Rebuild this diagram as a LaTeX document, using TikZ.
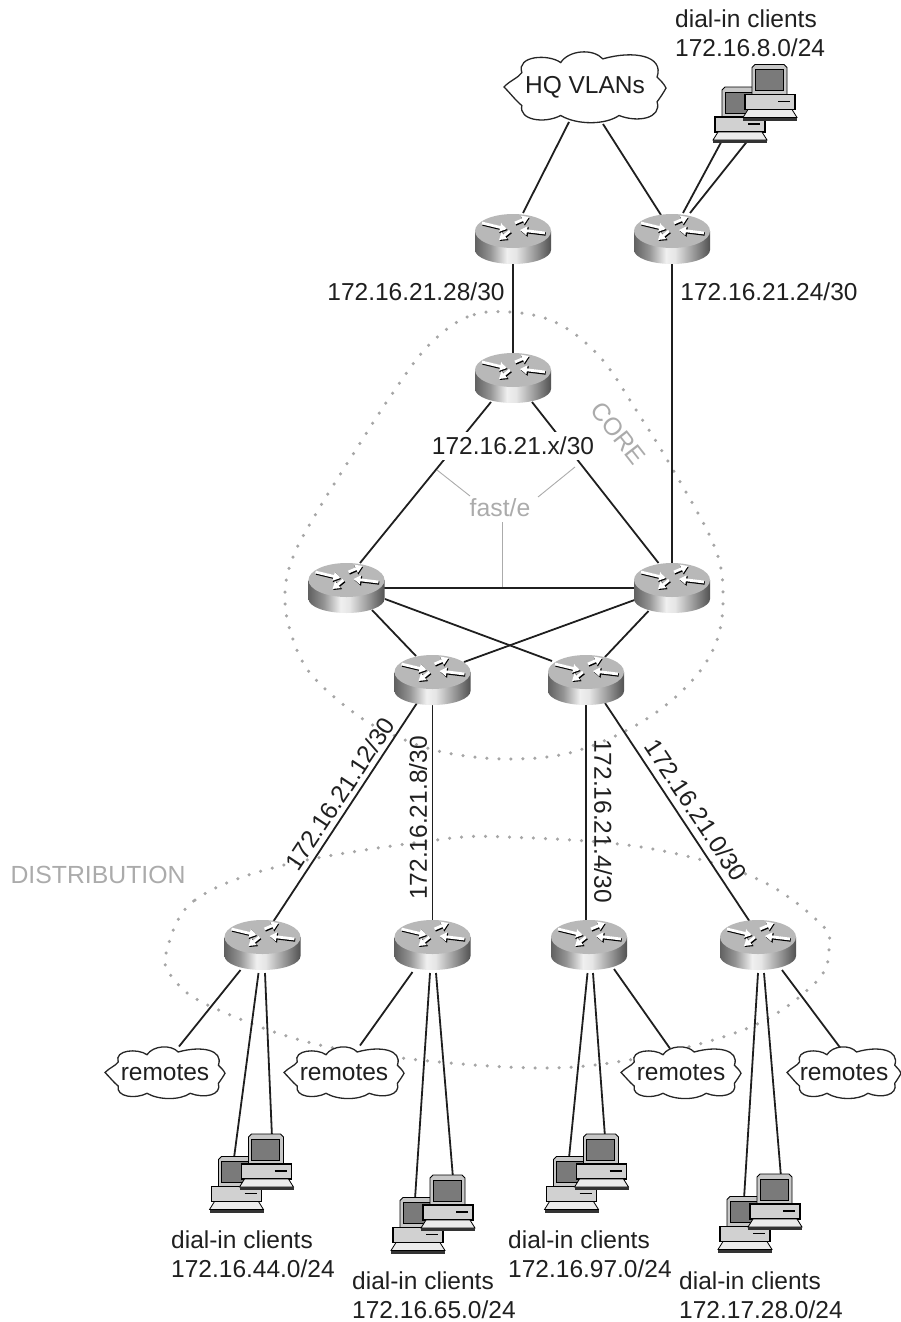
\documentclass[tikz,border=0pt]{standalone}
\usepackage{fontspec}
\setmainfont{Liberation Sans}
\usetikzlibrary{arrows.meta,backgrounds}

\pgfdeclarehorizontalshading{routerbody}{100bp}{
    color(0bp)=(black!62); color(25bp)=(black!62); color(35bp)=(black!42);
    color(46bp)=(black!6); color(52bp)=(black!10); color(65bp)=(black!42);
    color(75bp)=(black!68); color(100bp)=(black!68)}

\newcommand{\routerglyph}[1]{%
    \begin{scope}[shift={(#1.center)}, x=1pt, y=1pt]
        \path[shading=routerbody] (-38,8) -- (-38,-11) arc[start angle=180,end angle=360,x radius=38,y radius=14] -- (38,8) -- cycle;
        \fill[black!28] (0,8) ellipse[x radius=38,y radius=17];
        \foreach \ax/\ay/\bx/\by in {-31/16/-6/10, 2/16/16/22, 32/6/7/9, -3/8/-14/-1} {
            \draw[black, line width=3.4pt, -{Triangle[length=7.5pt,width=9.5pt]}] (\ax+.7,\ay-1) -- (\bx+.7,\by-1);
            \draw[white, line width=2.8pt, -{Triangle[length=7pt,width=8.5pt]}] (\ax,\ay) -- (\bx,\by);
        }
    \end{scope}}

\newcommand{\pcglyph}[2]{%
    \begin{scope}[xshift=#1pt, yshift=#2pt, line width=.8pt]
        \filldraw[fill=black!22] (-18,-3) -- (-18,24) -- (-15,27) -- (14,27) -- (17,24) -- (17,-3) -- cycle;
        \filldraw[fill=black!52] (-15,1) rectangle (13,22);
        \filldraw[fill=black!18, line width=1.2pt] (-25,-18) rectangle (25,-3);
        \draw[line width=1.6pt] (8,-10) -- (20,-10);
        \filldraw[fill=black!8] (-22,-18) -- (22,-18) -- (27,-26) -- (-27,-26) -- cycle;
        \fill[black!80] (-27,-26) rectangle (27,-29);
    \end{scope}}

\newcommand{\pcpairglyph}[1]{%
    \begin{scope}[shift={(#1.center)}, x=1pt, y=1pt]
        \pcglyph{-15}{-10.5}
        \pcglyph{15}{12}
    \end{scope}}

\newcommand{\cloudglyph}[3]{%
    \begin{scope}[shift={(#1.center)}, x=#2pt, y=#3pt]
        \filldraw[fill=white, draw=black!85, line width=1.3pt] (-1,0)
            .. controls (-.93,.17) and (-.82,.25) .. (-.78,.39)
            .. controls (-.85,.85) and (-.45,.9) .. (-.3,.66)
            .. controls (-.2,1) and (.1,1.05) .. (.22,.76)
            .. controls (.6,1) and (.98,.85) .. (.89,.27)
            .. controls (.93,.18) and (.98,.08) .. (1,-.03)
            .. controls (.97,-.15) and (.93,-.28) .. (.89,-.4)
            .. controls (.95,-.85) and (.65,-.97) .. (.42,-.77)
            .. controls (.25,-1.03) and (-.1,-1.03) .. (-.3,-.77)
            .. controls (-.5,-1) and (-.82,-.9) .. (-.78,-.5)
            .. controls (-.85,-.38) and (-.93,-.15) .. (-1,0) -- cycle;
    \end{scope}}

\begin{document}
\begin{tikzpicture}[
    x=1pt,
    y=-1pt,
    routerbox/.style={
        rectangle,
        inner sep=0pt,
        minimum width=76pt,
        minimum height=50pt
    },
    pcpair/.style={
        rectangle,
        inner sep=0pt,
        minimum width=84pt,
        minimum height=76pt
    },
    cloudbox/.style={
        rectangle,
        inner sep=0pt,
        font=\fontsize{24.5}{29}\selectfont,
        text=black!88
    },
    lanlabel/.style={
        align=left,
        inner sep=0pt,
        font=\fontsize{24.5}{29}\selectfont,
        text=black!88
    },
    zonelabel/.style={
        inner sep=0pt,
        font=\fontsize{24.8}{29}\selectfont,
        text=black!33
    },
    link/.style={line width=1.8pt, draw=black!88},
    leader/.style={line width=.9pt, draw=black!33},
    ring/.style={line width=3.5pt, draw=black!35, line cap=round, dash pattern=on 0pt off 12pt}
]
\useasboundingbox (0,0) rectangle (901,1322);

% HEADQUARTERS
\node[cloudbox] (hq) at (585,87) {HQ VLANs};
\node[pcpair] (pctop) at (755,103.5) {};
\node[routerbox] (hqleft) at (513,239) {};
\node[routerbox] (hqright) at (672,239) {};

% CORE
\node[routerbox] (coretop) at (513,378) {};
\node[routerbox] (coreleft) at (346.5,588) {};
\node[routerbox] (coreright) at (672,588) {};
\node[routerbox] (corelow) at (432.5,680) {};
\node[routerbox] (corelowb) at (586,680) {};

% DISTRIBUTION
\node[routerbox] (distA) at (262.5,945) {};
\node[routerbox] (distB) at (432.5,945) {};
\node[routerbox] (distC) at (589,945) {};
\node[routerbox] (distD) at (758,945) {};

% REMOTES
\node[cloudbox] (remA) at (165,1072.5) {remotes};
\node[cloudbox] (remB) at (344,1072.5) {remotes};
\node[cloudbox] (remC) at (681,1072.5) {remotes};
\node[cloudbox] (remD) at (844,1072.5) {remotes};

% DIAL-IN
\node[pcpair] (pcA) at (251.5,1173) {};
\node[pcpair] (pcB) at (433,1214) {};
\node[pcpair] (pcC) at (586.5,1173) {};
\node[pcpair] (pcD) at (760,1213) {};

% TEXTS
\node[lanlabel, anchor=west] (pctoptext) at (675,33) {dial-in clients\\172.16.8.0/24};
\node[lanlabel, anchor=west] (pcAtext) at (171,1254) {dial-in clients\\172.16.44.0/24};
\node[lanlabel, anchor=west] (pcBtext) at (352,1295) {dial-in clients\\172.16.65.0/24};
\node[lanlabel, anchor=west] (pcCtext) at (508,1254) {dial-in clients\\172.16.97.0/24};
\node[lanlabel, anchor=west] (pcDtext) at (679,1295) {dial-in clients\\172.17.28.0/24};

\node[lanlabel] (netleft) at (416,292) {172.16.21.28/30};
\node[lanlabel] (netright) at (769,292) {172.16.21.24/30};
\node[lanlabel, fill=white, inner sep=5pt] (netcore) at (513,446) {172.16.21.x/30};
\node[lanlabel, rotate=56.5] (netA) at (340,794) {172.16.21.12/30};
\node[lanlabel, rotate=90] (netB) at (418,818) {172.16.21.8/30};
\node[lanlabel, rotate=-90] (netC) at (603,821) {172.16.21.4/30};
\node[lanlabel, rotate=-56.5] (netD) at (696,810) {172.16.21.0/30};

\node[zonelabel] (fast) at (500,508) {fast/e};
\node[zonelabel, rotate=-52] (coretext) at (618,433) {CORE};
\node[zonelabel] (disttext) at (98,875) {DISTRIBUTION};

\coordinate (fastA) at (437,470);
\coordinate (fastB) at (575,467);

\begin{pgfonlayer}{background}
% DOTTED ZONES
\draw[ring] plot[smooth cycle, tension=.6] coordinates {(510,312) (467,317) (427,347) (390,397) (357,448) (317,512) (293,557) (285,593) (290,630) (310,673) (357,715) (400,738) (447,753) (510,759) (573,752) (640,723) (690,683) (717,640) (723,590) (713,543) (672,468) (638,413) (600,357) (557,323)};
\draw[ring] plot[smooth cycle, tension=.6] coordinates {(167,950) (195,900) (284,865) (436,840) (507,837) (641,847) (753,877) (820,923) (829,950) (815,983) (748,1028) (623,1061) (507,1067) (329,1047) (212,1007) (172,977)};

% LEADERS OF FAST/E
\draw[leader] (fastA) -- ([shift={(-30,-12)}]fast.center);
\draw[leader] (fastB) -- ([shift={(38,-11)}]fast.center);
\draw[leader] ([shift={(2,14)}]fast.center) -- ([shift={(2,80)}]fast.center);

% TOP LINKS
\draw[link] ([shift={(-16,35)}]hq.center) -- ([shift={(10,-26)}]hqleft.center);
\draw[link] ([shift={(18,37)}]hq.center) -- ([shift={(-11,-24)}]hqright.center);
\draw[link] ([shift={(-33,37)}]pctop.center) -- ([shift={(11,-26)}]hqright.center);
\draw[link] ([shift={(-8,38)}]pctop.center) -- ([shift={(18,-26)}]hqright.center);
\draw[link] (hqleft.center) -- (coretop.center);
\draw[link] (hqright.center) -- (coreright.center);

% CORE LINKS
\draw[link] ([shift={(-22,24)}]coretop.center) -- ([shift={(13.5,-25)}]coreleft.center);
\draw[link] ([shift={(19,24)}]coretop.center) -- ([shift={(-13.5,-25)}]coreright.center);
\draw[link] (coreleft.center) -- (coreright.center);
\draw[link] ([shift={(38.5,11)}]coreleft.center) -- ([shift={(-34,-19)}]corelowb.center);
\draw[link] ([shift={(-37.5,12)}]coreright.center) -- ([shift={(31.5,-18)}]corelow.center);
\draw[link] ([shift={(25.5,22)}]coreleft.center) -- ([shift={(-16.5,-24)}]corelow.center);
\draw[link] ([shift={(-23.5,23)}]coreright.center) -- ([shift={(19,-23)}]corelowb.center);

% LINKS TO DISTRIBUTION
\draw[link] ([shift={(-15.5,23)}]corelow.center) -- ([shift={(10.5,-23)}]distA.center);
\draw[link] (corelow.center) -- (distB.center);
\draw[link] (corelowb.center) -- ([shift={(-3,0)}]distC.center);
\draw[link] ([shift={(19,23)}]corelowb.center) -- ([shift={(-8,-23)}]distD.center);

% LINKS TO REMOTES AND DIAL-IN
\draw[link] ([shift={(-22,25)}]distA.center) -- ([shift={(14,-26)}]remA.center);
\draw[link] ([shift={(-20,27)}]distB.center) -- ([shift={(16,-27)}]remB.center);
\draw[link] ([shift={(25,24)}]distC.center) -- ([shift={(-11,-24)}]remC.center);
\draw[link] ([shift={(24,25)}]distD.center) -- ([shift={(-4,-25)}]remD.center);

\draw[link] ([shift={(-4,28)}]distA.center) -- ([shift={(-17.5,-15)}]pcA.center);
\draw[link] ([shift={(2.5,28)}]distA.center) -- ([shift={(20.5,-36)}]pcA.center);
\draw[link] ([shift={(-2.5,28)}]distB.center) -- ([shift={(-18,-15)}]pcB.center);
\draw[link] ([shift={(3.5,28)}]distB.center) -- ([shift={(20,-36)}]pcB.center);
\draw[link] ([shift={(-1.5,28)}]distC.center) -- ([shift={(-17.5,-15)}]pcC.center);
\draw[link] ([shift={(4,28)}]distC.center) -- ([shift={(18.5,-36)}]pcC.center);
\draw[link] ([shift={(0,28)}]distD.center) -- ([shift={(-16,-14)}]pcD.center);
\draw[link] ([shift={(6,28)}]distD.center) -- ([shift={(21,-36)}]pcD.center);

% ROUTER, CLIENT AND CLOUD ICONS
\foreach \n in {hqleft,hqright,coretop,coreleft,coreright,corelow,corelowb,distA,distB,distC,distD} {
    \routerglyph{\n}
}
\foreach \n in {pctop,pcA,pcB,pcC,pcD} {
    \pcpairglyph{\n}
}
\cloudglyph{hq}{81}{37}
\cloudglyph{remA}{60}{27}
\cloudglyph{remB}{60}{27}
\cloudglyph{remC}{60}{27}
\cloudglyph{remD}{57}{27}
\end{pgfonlayer}

\end{tikzpicture}
\end{document}
